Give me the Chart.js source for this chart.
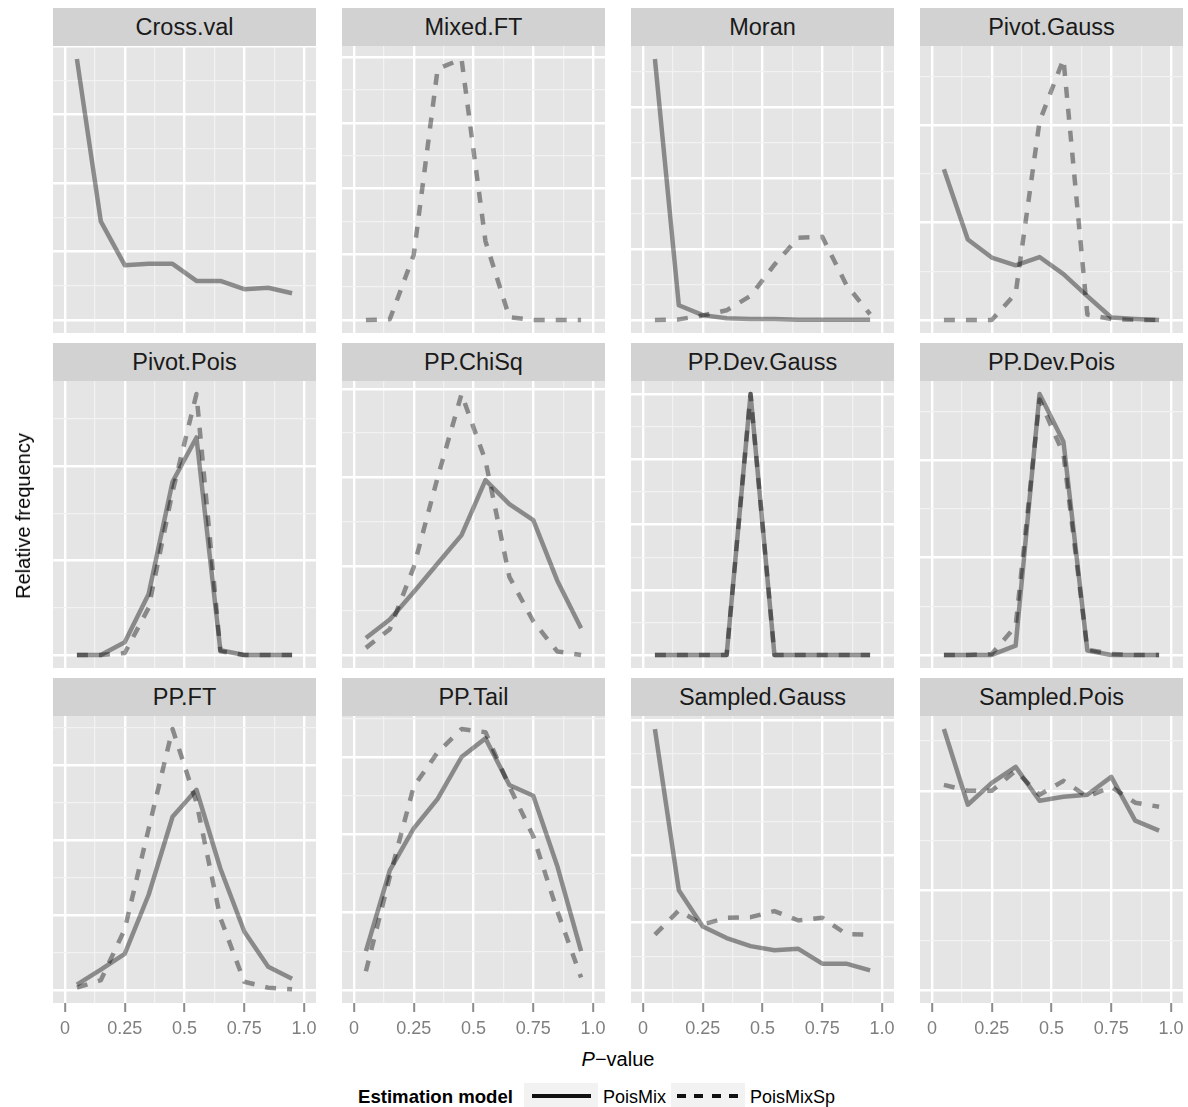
<!DOCTYPE html>
<html>
<head>
<meta charset="utf-8">
<script src="https://cdn.jsdelivr.net/npm/chart.js@4.4.0/dist/chart.umd.min.js"></script>
<style>
  body { margin: 0; background: #fff; font-family: "Liberation Sans", Arial, sans-serif; }
  #page { position: relative; width: 1188px; height: 1107px; overflow: hidden; background: #fff; }
  .strip { position: absolute; background: #d2d2d2; color: #1a1a1a; font-size: 23.5px;
           text-align: center; line-height: 38px; height: 38px; }
  canvas.panel { position: absolute; }
  .txt { position: absolute; white-space: nowrap; color: #000; }
  .key { position: absolute; background: #f2f2f2; }
</style>
</head>
<body>
<div id="page"></div>
<script>
// ---- data ----
const xMid = [0.05, 0.15, 0.25, 0.35, 0.45, 0.55, 0.65, 0.75, 0.85, 0.95];
const xMajor = [0, 0.25, 0.5, 0.75, 1.0];
const xTickLabels = ["0", "0.25", "0.5", "0.75", "1.0"];
const seriesNames = ["PoisMix", "PoisMixSp"];
const panelNames = ["Cross.val", "Mixed.FT", "Moran", "Pivot.Gauss",
                    "Pivot.Pois", "PP.ChiSq", "PP.Dev.Gauss", "PP.Dev.Pois",
                    "PP.FT", "PP.Tail", "Sampled.Gauss", "Sampled.Pois"];

const crossValMix = [0.381, 0.144, 0.080, 0.082, 0.082, 0.057, 0.057, 0.045, 0.047, 0.039];
const crossValSp = [];
const mixedFTMix = [];
const mixedFTSp = [0, 0.001, 0.099, 0.382, 0.397, 0.120, 0.004, 0, 0, 0];
const moranMix = [0.920, 0.052, 0.017, 0.006, 0.003, 0.003, 0.001, 0.001, 0.001, 0.001];
const moranSp = [0, 0.002, 0.016, 0.034, 0.085, 0.195, 0.290, 0.293, 0.125, 0.020];
const pivotGaussMix = [0.309, 0.165, 0.128, 0.112, 0.129, 0.094, 0.049, 0.005, 0.002, 0];
const pivotGaussSp = [0, 0, 0, 0.054, 0.407, 0.535, 0.011, 0.002, 0, 0];
const pivotPoisMix = [0, 0, 0.027, 0.129, 0.367, 0.461, 0.010, 0, 0, 0];
const pivotPoisSp = [0, 0, 0.004, 0.100, 0.346, 0.553, 0.008, 0, 0, 0];
const ppChiSqMix = [0.019, 0.040, 0.071, 0.103, 0.135, 0.197, 0.170, 0.152, 0.084, 0.030];
const ppChiSqSp = [0.008, 0.029, 0.099, 0.200, 0.294, 0.219, 0.088, 0.038, 0.004, 0];
const ppDevGaussMix = [0, 0, 0, 0, 1.0, 0, 0, 0, 0, 0];
const ppDevGaussSp = [0, 0, 0, 0, 1.0, 0, 0, 0, 0, 0];
const ppDevPoisMix = [0, 0, 0, 0.019, 0.535, 0.437, 0.009, 0, 0, 0];
const ppDevPoisSp = [0, 0, 0.002, 0.059, 0.524, 0.412, 0.011, 0.002, 0, 0];
const ppFTMix = [0.007, 0.027, 0.048, 0.127, 0.231, 0.267, 0.162, 0.078, 0.031, 0.015];
const ppFTSp = [0.003, 0.013, 0.081, 0.215, 0.348, 0.250, 0.096, 0.011, 0.003, 0.001];
const ppTailMix = [0.025, 0.077, 0.104, 0.123, 0.150, 0.162, 0.132, 0.125, 0.080, 0.025];
const ppTailSp = [0.012, 0.073, 0.131, 0.153, 0.168, 0.166, 0.131, 0.099, 0.051, 0.008];
const sampledGaussMix = [0.387, 0.148, 0.094, 0.077, 0.065, 0.059, 0.061, 0.039, 0.039, 0.029];
const sampledGaussSp = [0.082, 0.118, 0.097, 0.107, 0.108, 0.117, 0.103, 0.107, 0.083, 0.082];
const sampledPoisMix = [0.131, 0.093, 0.104, 0.112, 0.095, 0.097, 0.098, 0.107, 0.085, 0.080];
const sampledPoisSp = [0.103, 0.100, 0.100, 0.110, 0.098, 0.105, 0.097, 0.102, 0.094, 0.092];

// major y grid step per panel (free y scales, no labels shown)
const yBreakStep = [0.1, 0.1, 0.25, 0.2, 0.2, 0.1, 0.25, 0.2, 0.1, 0.05, 0.1, 0.05];

const mixSeries = [crossValMix, mixedFTMix, moranMix, pivotGaussMix, pivotPoisMix, ppChiSqMix,
                   ppDevGaussMix, ppDevPoisMix, ppFTMix, ppTailMix, sampledGaussMix, sampledPoisMix];
const spSeries = [crossValSp, mixedFTSp, moranSp, pivotGaussSp, pivotPoisSp, ppChiSqSp,
                  ppDevGaussSp, ppDevPoisSp, ppFTSp, ppTailSp, sampledGaussSp, sampledPoisSp];

// ---- layout ----
const FONT = '"Liberation Sans", Arial, sans-serif';
const colLeft = [53, 342, 631, 920];
const rowTop = [8, 343, 678];
const panelW = 263, stripH = 38, plotH = 287, pad = 20, axisH = 45;
const lineColor = "rgba(0,0,0,0.4)";

const xGrid = [];
xMajor.forEach((v, i) => {
    xGrid.push(v);
    if (i < xMajor.length - 1) xGrid.push((v + xMajor[i + 1]) / 2);
});

const panelBg = {
    id: "panelBg",
    beforeDraw(chart) {
        const { ctx, chartArea: a } = chart;
        ctx.save();
        ctx.fillStyle = "#e5e5e5";
        ctx.fillRect(a.left, a.top, a.right - a.left, a.bottom - a.top);
        ctx.restore();
    }
};

const page = document.getElementById("page");

function isMajorX(v) {
    return xMajor.some(m => Math.abs(m - v) < 1e-9);
}

function makePanel(i) {
    const row = Math.floor(i / 4), col = i % 4;
    const bottom = row === 2;

    const strip = document.createElement("div");
    strip.className = "strip";
    strip.style.left = colLeft[col] + "px";
    strip.style.top = rowTop[row] + "px";
    strip.style.width = panelW + "px";
    strip.textContent = panelNames[i];
    page.appendChild(strip);

    const cv = document.createElement("canvas");
    cv.className = "panel";
    cv.width = panelW + 2 * pad;
    cv.height = plotH + (bottom ? axisH : 0);
    cv.style.left = (colLeft[col] - pad) + "px";
    cv.style.top = (rowTop[row] + stripH) + "px";
    page.appendChild(cv);

    const mix = mixSeries[i], sp = spSeries[i];
    const yTop = Math.max(0, ...mix, ...sp);
    const yMin = -0.05 * yTop, yMax = 1.05 * yTop;
    const step = yBreakStep[i];
    const yGrid = [];
    for (let k = 0; k * step / 2 <= yMax + 1e-9; k++) yGrid.push({ value: k * step / 2, major: k % 2 === 0 });

    new Chart(cv, {
        type: "line",
        data: {
            datasets: [
                {
                    label: seriesNames[0],
                    data: mix.map((y, j) => ({ x: xMid[j], y })),
                    borderColor: lineColor, borderWidth: 4.5,
                    borderCapStyle: "butt", borderJoinStyle: "round"
                },
                {
                    label: seriesNames[1],
                    data: sp.map((y, j) => ({ x: xMid[j], y })),
                    borderColor: lineColor, borderWidth: 4.5, borderDash: [11, 11],
                    borderCapStyle: "butt", borderJoinStyle: "round"
                }
            ]
        },
        options: {
            responsive: false,
            animation: false,
            devicePixelRatio: 1,
            layout: { padding: { left: pad, right: pad, top: 0, bottom: 0 } },
            elements: { point: { radius: 0 }, line: { tension: 0 } },
            plugins: { legend: { display: false }, tooltip: { enabled: false } },
            scales: {
                x: {
                    type: "linear", min: -0.05, max: 1.05,
                    border: { display: false },
                    afterBuildTicks: s => { s.ticks = xGrid.map(v => ({ value: v })); },
                    afterFit: s => { s.height = bottom ? axisH : 0; s.paddingLeft = 0; s.paddingRight = 0; },
                    grid: {
                        color: c => isMajorX(c.tick.value) ? "#ffffff" : "#f2f2f2",
                        lineWidth: c => isMajorX(c.tick.value) ? 2.4 : 1.2,
                        drawTicks: bottom, tickLength: 9, tickWidth: 2,
                        tickColor: c => isMajorX(c.tick.value) ? "#8c8c8c" : "rgba(0,0,0,0)"
                    },
                    ticks: {
                        display: bottom, autoSkip: false, maxRotation: 0, padding: 6,
                        color: "#7f7f7f", font: { family: FONT, size: 18 },
                        callback: v => {
                            const k = xMajor.findIndex(m => Math.abs(m - v) < 1e-9);
                            return k >= 0 ? xTickLabels[k] : "";
                        }
                    }
                },
                y: {
                    type: "linear", min: yMin, max: yMax,
                    border: { display: false },
                    afterBuildTicks: s => { s.ticks = yGrid.map(t => ({ value: t.value })); },
                    afterFit: s => { s.width = 0; },
                    grid: {
                        color: c => yGrid[c.index] && yGrid[c.index].major ? "#ffffff" : "#f2f2f2",
                        lineWidth: c => yGrid[c.index] && yGrid[c.index].major ? 2.4 : 1.2,
                        drawTicks: false
                    },
                    ticks: { display: false }
                }
            }
        },
        plugins: [panelBg]
    });
}

panelNames.forEach((n, i) => makePanel(i));

// ---- axis titles ----
function addText(html, css) {
    const d = document.createElement("div");
    d.className = "txt";
    d.innerHTML = html;
    Object.assign(d.style, css);
    page.appendChild(d);
    return d;
}

addText("<i>P</i>\u2212value", { left: "618px", top: "1049px", fontSize: "20px", lineHeight: "20px",
    transform: "translateX(-50%)" });
addText("Relative frequency", { left: "23px", top: "516px", fontSize: "20px", lineHeight: "20px",
    transform: "translate(-50%,-50%) rotate(-90deg)" });

// ---- legend ----
addText("<b>Estimation model</b>", { left: "358px", top: "1088px", fontSize: "18.6px", lineHeight: "18px" });

const key1 = document.createElement("div");
key1.className = "key";
Object.assign(key1.style, { left: "524px", top: "1083px", width: "74px", height: "26px" });
key1.innerHTML = '<div style="position:absolute;left:8px;top:11px;width:59px;height:4px;background:#111"></div>';
page.appendChild(key1);
addText(seriesNames[0], { left: "603px", top: "1088px", fontSize: "18px", lineHeight: "18px" });

const key2 = document.createElement("div");
key2.className = "key";
Object.assign(key2.style, { left: "671px", top: "1083px", width: "74px", height: "26px" });
key2.innerHTML = '<div style="position:absolute;left:6px;top:11px;width:62px;height:4px;' +
    'background:repeating-linear-gradient(90deg,#111 0 9px,transparent 9px 17.5px)"></div>';
page.appendChild(key2);
addText(seriesNames[1], { left: "750px", top: "1088px", fontSize: "18px", lineHeight: "18px" });
</script>
</body>
</html>
